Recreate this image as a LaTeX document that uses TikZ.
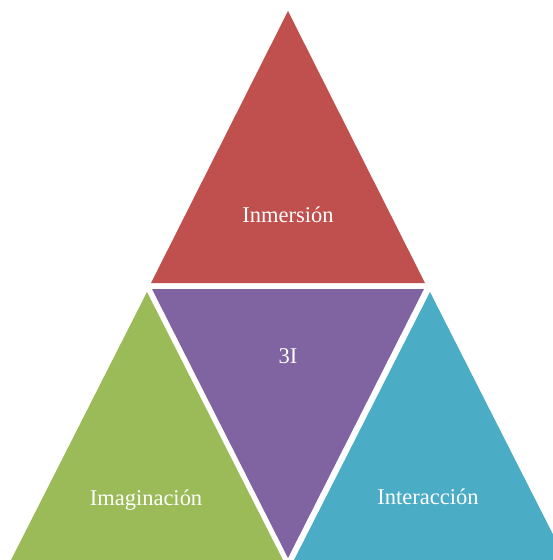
\documentclass[tikz,border=0pt]{standalone}
\usepackage{fontspec}
\setmainfont{Liberation Serif}
\usetikzlibrary{positioning}

\definecolor{inmRed}{HTML}{C0504D}
\definecolor{triPurple}{HTML}{8064A2}
\definecolor{imaGreen}{HTML}{9BBB59}
\definecolor{intBlue}{HTML}{4BACC6}

\tikzset{
    label/.style = {anchor = base, text = white, font = \fontsize{22.5}{27}\selectfont}
}

\begin{document}
\begin{tikzpicture}[x = 1pt, y = -1pt]
        \useasboundingbox (0, 0) rectangle (553, 560);
        \clip (0, 0) rectangle (553, 560);

        % corners of the four triangles
        \coordinate (redTop) at (288, 11);
        \coordinate (redLeft) at (151, 283);
        \coordinate (redRight) at (425, 283);
        \coordinate (midLeft) at (152, 289);
        \coordinate (midRight) at (424, 289);
        \coordinate (midBottom) at (288, 558);
        \coordinate (greenTop) at (147, 292);
        \coordinate (greenLeft) at (10, 562);
        \coordinate (greenRight) at (284, 562);
        \coordinate (blueTop) at (430, 292);
        \coordinate (blueLeft) at (293, 562);
        \coordinate (blueRight) at (567, 562);

        \fill[inmRed] (redTop) -- (redLeft) -- (redRight) -- cycle;
        \fill[triPurple] (midLeft) -- (midRight) -- (midBottom) -- cycle;
        \fill[imaGreen] (greenTop) -- (greenLeft) -- (greenRight) -- cycle;
        \fill[intBlue] (blueTop) -- (blueLeft) -- (blueRight) -- cycle;

        \node[label] (inm) at (288, 222) {Inmersión};
        \node[label] (tres) at (288, 363) {3I};
        \node[label] (ima) at (146, 505) {Imaginación};
        \node[label] (inter) at (428, 504) {Interacción};
      \end{tikzpicture}
\end{document}
